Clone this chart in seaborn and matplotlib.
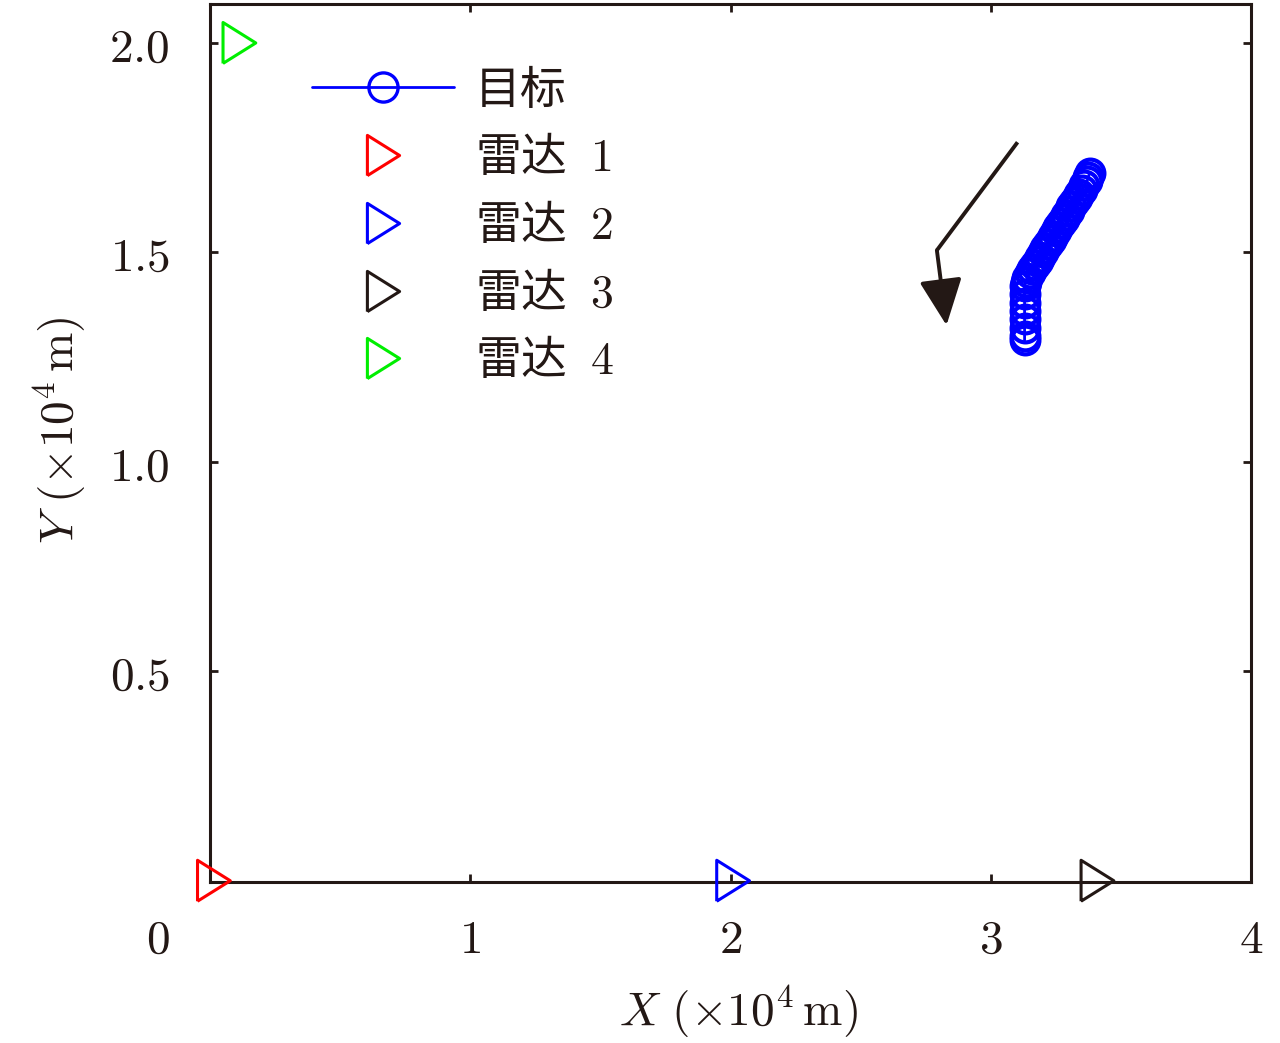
import matplotlib
matplotlib.use('Agg')
import matplotlib.pyplot as plt
from matplotlib.lines import Line2D
import seaborn as sns
import pandas as pd

# data (x, y in units of 1e4 m)
target_x = [3.38, 3.375, 3.37, 3.36, 3.35, 3.34, 3.33, 3.32, 3.31, 3.30,
            3.29, 3.28, 3.27, 3.26, 3.25, 3.24, 3.23, 3.22, 3.21, 3.20,
            3.19, 3.18, 3.17, 3.16, 3.15, 3.14, 3.135, 3.13, 3.13, 3.13,
            3.13, 3.13, 3.13, 3.13, 3.13]
target_y = [1.69, 1.68, 1.67, 1.66, 1.65, 1.64, 1.63, 1.62, 1.61, 1.60,
            1.59, 1.58, 1.57, 1.56, 1.55, 1.54, 1.53, 1.52, 1.51, 1.50,
            1.49, 1.48, 1.47, 1.46, 1.45, 1.44, 1.43, 1.42, 1.40, 1.38,
            1.36, 1.34, 1.32, 1.30, 1.29]

radar_names = [r'雷达 $\ 1$', r'雷达 $\ 2$', r'雷达 $\ 3$', r'雷达 $\ 4$']
radar_x = [0.015, 2.01, 3.41, 0.113]
radar_y = [0.0, 0.0, 0.0, 2.0]
radar_colors = ['#ff0000', '#0000ff', '#231815', '#00ee00']

x_ticks = [1, 2, 3, 4]
y_ticks = [0.5, 1.0, 1.5, 2.0]

ink = '#231815'
sns.set_style('ticks')
plt.rcParams['font.family'] = ['Noto Sans CJK SC', 'DejaVu Sans']
plt.rcParams['mathtext.fontset'] = 'cm'
plt.rcParams['axes.unicode_minus'] = False

fig = plt.figure(figsize=(12.8, 10.43), dpi=100)
ax = fig.add_axes([210 / 1280, 1 - 882 / 1043, 1041 / 1280, 878 / 1043])

tri = [(-0.8, -1), (0.8, 0), (-0.8, 1), (-0.8, -1)]

# 目标轨迹
df_t = pd.DataFrame({'x': target_x, 'y': target_y})
sns.lineplot(data=df_t, x='x', y='y', sort=False, estimator=None, ax=ax,
             color='#0000ff', linewidth=2, marker='o', markersize=20,
             markerfacecolor='none', markeredgecolor='#0000ff',
             markeredgewidth=3, zorder=3)

# 雷达
for rx, ry, c in zip(radar_x, radar_y, radar_colors):
    sns.scatterplot(x=[rx], y=[ry], ax=ax, marker=tri, s=870,
                    facecolors='none', edgecolors=c, linewidths=2.2,
                    clip_on=False, zorder=5)

# 方向箭头
ax.plot([3.103, 2.793], [1.763, 1.505], color=ink, lw=2.8, solid_capstyle='butt')
ax.annotate('', xy=(2.83, 1.326), xytext=(2.793, 1.505),
            arrowprops=dict(arrowstyle='-|>,head_length=1.3,head_width=0.6',
                            color=ink, lw=2.8, mutation_scale=22,
                            shrinkA=0, shrinkB=0))

ax.set_xlim(0, 4)
ax.set_ylim(-0.003, 2.093)
ax.set_xticks(x_ticks)
ax.set_xticklabels([f'${v}$' for v in x_ticks])
ax.set_yticks(y_ticks)
ax.set_yticklabels([f'${v:.1f}$' for v in y_ticks])
ax.tick_params(direction='in', length=6, width=2, colors=ink, labelsize=34,
               top=True, right=True)
ax.tick_params(axis='x', pad=24)
ax.tick_params(axis='y', pad=29)
for s in ax.spines.values():
    s.set_color(ink)
    s.set_linewidth(2.2)

fig.text(158 / 1280, 1 - 940 / 1043, '$0$', fontsize=34, color=ink,
         ha='center', va='center')

ax.set_xlabel(r'$X\ (\times 10^4\,\mathrm{m})$', fontsize=34, color=ink)
ax.xaxis.set_label_coords((738 - 210) / 1041, (882 - 1012) / 878)
ax.xaxis.label.set_va('center')
ax.set_ylabel(r'$Y\ (\times 10^4\,\mathrm{m})$', fontsize=34, color=ink)
ax.yaxis.set_label_coords((60 - 210) / 1041, (882 - 430) / 878)
ax.yaxis.label.set_va('center')

# 图例
handles = [Line2D([], [], color='#0000ff', lw=2, marker='o', markersize=21,
                  markerfacecolor='none', markeredgecolor='#0000ff',
                  markeredgewidth=2.4)]
for c in radar_colors:
    handles.append(Line2D([], [], linestyle='none', marker=tri, markersize=29,
                          markerfacecolor='none', markeredgecolor=c,
                          markeredgewidth=2.2))
labels = ['目标'] + radar_names
leg = ax.legend(handles, labels, loc='upper left', frameon=False,
                bbox_to_anchor=(312 / 1280, 1 - 66 / 1043),
                bbox_transform=fig.transFigure, borderpad=0, borderaxespad=0,
                handlelength=3.1, handletextpad=0.45, labelspacing=0.42,
                numpoints=1, fontsize=33)
for t in leg.get_texts():
    t.set_color(ink)

fig.savefig('out.png', dpi=100, facecolor='white')
